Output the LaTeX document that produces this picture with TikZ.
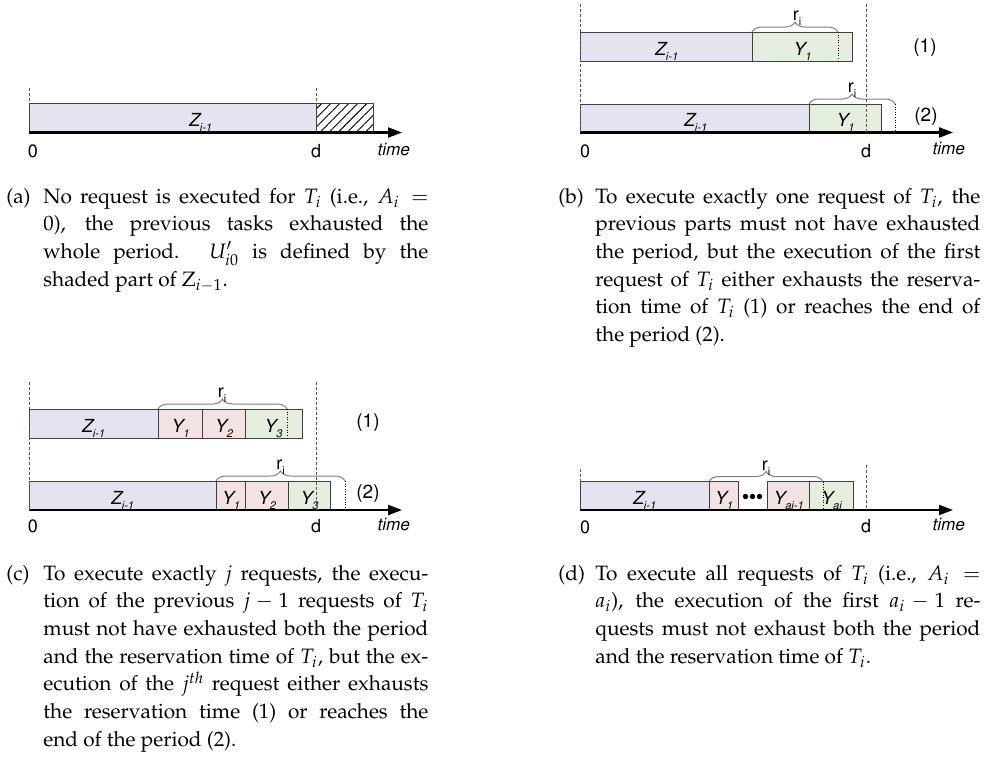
\documentclass[tikz,border=0pt]{standalone}
\usepackage[T1]{fontenc}
\usepackage{mathpazo}
\usetikzlibrary{arrows.meta,calc,decorations.pathreplacing,patterns.meta}

\definecolor{zfill}{RGB}{228,228,240}
\definecolor{ygreen}{RGB}{227,238,223}
\definecolor{ypink}{RGB}{242,227,226}

\newcommand{\hv}{\fontfamily{phv}\selectfont}
\newcommand{\lsub}[1]{\raisebox{-0.55ex}{\fontsize{5.5}{6}\selectfont #1}}
\newcommand{\Zprev}{Z\lsub{i-1}}
\newcommand{\Yreq}[1]{Y\lsub{#1}}
\newcommand{\rres}{r\lsub{i}}
\newcommand{\capbox}[2]{\vtop{\hsize=211pt\parindent=0pt\hangindent=18.5pt\hangafter=1
  \fontsize{10.4}{13.85}\selectfont\tolerance=10000\hbadness=10000
  \leavevmode\makebox[18.5pt][l]{#1}#2\par}}

\tikzset{
    part/.style={draw=black!75,line width=0.5pt},
    zpart/.style={part,fill=zfill},
    gpart/.style={part,fill=ygreen},
    ppart/.style={part,fill=ypink},
    hpart/.style={part,pattern={Lines[angle=45,distance=3.2pt,line width=0.45pt]}},
    taxis/.style={line width=1.1pt,-{Triangle[length=7pt,width=5pt]}},
    period/.style={black!65,line width=0.5pt,dash pattern=on 1.5pt off 1pt},
    rlimit/.style={black,line width=0.5pt,dash pattern=on 0.5pt off 0.8pt},
    rbrace/.style={black!50,line width=0.5pt,decorate,decoration={brace,amplitude=5pt}},
    seglabel/.style={font=\hv\slshape\fontsize{9}{10}\selectfont,inner sep=0pt,anchor=base},
    ticklabel/.style={font=\hv\fontsize{9}{10}\selectfont,inner sep=0pt,anchor=base},
    timelabel/.style={font=\hv\slshape\fontsize{8.5}{10}\selectfont,inner sep=0pt,anchor=base},
    rowlabel/.style={font=\hv\fontsize{9.5}{10}\selectfont,inner sep=0pt},
    rlabel/.style={font=\hv\fontsize{9}{10}\selectfont,inner sep=0pt,anchor=base},
    capt/.style={inner sep=0pt,anchor=base west}
}

\begin{document}
\begin{tikzpicture}[x=0.5pt,y=-0.5pt]
  \useasboundingbox (0,0) rectangle (984,760);

  % (a) previous tasks fill the period
  \draw[zpart] (29,103) rectangle (316,132.5);
  \draw[hpart] (316,103) rectangle (373,132.5);
  \node[seglabel] (a-z) at (200,126.5) {\Zprev};
  \coordinate (a-o) at (29,132.5);
  \coordinate (a-end) at (402,132.5);
  \draw[taxis] (a-o) -- (a-end);
  \draw[period] (29,88) -- (29,103);
  \draw[period] (316,88) -- (316,103);
  \node[ticklabel] (a-0) at (33,157) {0};
  \node[ticklabel] (a-d) at (316,157) {d};
  \node[timelabel] (a-t) at (393,155) {time};
  \node[capt] (a-cap) at (6,203) {\capbox{(a)}{No request is executed for $T_i$ (i.e., $A_i=$\linebreak
    $0$), the previous tasks exhausted the\linebreak
    whole period. $U'_{i0}$ is defined by the\linebreak
    shaded part of $\mathrm{Z}_{i-1}$.}};

  % (b) exactly one request
  \draw[zpart] (580,32) rectangle (752,61);
  \draw[gpart] (752,32) rectangle (852,61);
  \node[seglabel] (b-z1) at (666,55) {\Zprev};
  \node[seglabel] (b-y1) at (802,55) {\Yreq{1}};
  \draw[rlimit] (838,32) -- (838,61);
  \draw[rbrace] (752,32) -- (838,32);
  \node[rlabel] (b-r1) at (797,20) {\rres};
  \node[rowlabel] (b-n1) at (925,48) {(1)};
  \draw[zpart] (580,104) rectangle (809,132.5);
  \draw[gpart] (809,104) rectangle (881,132.5);
  \node[seglabel] (b-z2) at (695,126.5) {\Zprev};
  \node[seglabel] (b-y2) at (845,126.5) {\Yreq{1}};
  \draw[rbrace] (809,104) -- (895,104);
  \draw[rlimit] (895,104) -- (895,132.5);
  \node[rlabel] (b-r2) at (852,92) {\rres};
  \node[rowlabel] (b-n2) at (926,117) {(2)};
  \coordinate (b-o) at (580,132.5);
  \coordinate (b-end) at (953,132.5);
  \draw[taxis] (b-o) -- (b-end);
  \draw[period] (580,4) -- (580,132.5);
  \draw[period] (866,4) -- (866,132.5);
  \node[ticklabel] (b-0) at (585,157) {0};
  \node[ticklabel] (b-d) at (866,157) {d};
  \node[timelabel] (b-t) at (948,154) {time};
  \node[capt] (b-cap) at (558,203) {\capbox{(b)}{To execute exactly one request of $T_i$, the\linebreak
    previous parts must not have exhausted\linebreak
    the period, but the execution of the first\linebreak
    request of $T_i$ either exhausts the reserva-\linebreak
    tion time of $T_i$ (1) or reaches the end of\linebreak
    the period (2).}};

  % (c) exactly j requests
  \draw[zpart] (29,409) rectangle (158,438);
  \draw[ppart] (158,409) rectangle (202,438);
  \draw[ppart] (202,409) rectangle (245,438);
  \draw[gpart] (245,409) rectangle (302,438);
  \node[seglabel] (c-z1) at (93,432) {\Zprev};
  \node[seglabel] (c-y11) at (180,432) {\Yreq{1}};
  \node[seglabel] (c-y12) at (223.5,432) {\Yreq{2}};
  \node[seglabel] (c-y13) at (273,432) {\Yreq{3}};
  \draw[rlimit] (287,409) -- (287,438);
  \draw[rbrace] (158,409) -- (287,409);
  \node[rlabel] (c-r1) at (222,397) {\rres};
  \node[rowlabel] (c-n1) at (368,423) {(1)};
  \draw[zpart] (29,481) rectangle (216,510);
  \draw[ppart] (216,481) rectangle (245,510);
  \draw[ppart] (245,481) rectangle (288,510);
  \draw[gpart] (288,481) rectangle (330,510);
  \node[seglabel] (c-z2) at (122,504) {\Zprev};
  \node[seglabel] (c-y21) at (230.5,504) {\Yreq{1}};
  \node[seglabel] (c-y22) at (266.5,504) {\Yreq{2}};
  \node[seglabel] (c-y23) at (309,504) {\Yreq{3}};
  \draw[rbrace] (216,481) -- (345,481);
  \draw[rlimit] (345,481) -- (345,510);
  \node[rlabel] (c-r2) at (280.5,469) {\rres};
  \node[rowlabel] (c-n2) at (368,494) {(2)};
  \coordinate (c-o) at (29,510);
  \coordinate (c-end) at (402,510);
  \draw[taxis] (c-o) -- (c-end);
  \draw[period] (29,382) -- (29,510);
  \draw[period] (316,382) -- (316,510);
  \node[ticklabel] (c-0) at (33,532) {0};
  \node[ticklabel] (c-d) at (316,532) {d};
  \node[timelabel] (c-t) at (393,530) {time};
  \node[capt] (c-cap) at (6,580) {\capbox{(c)}{To execute exactly $j$ requests, the execu-\linebreak
    tion of the previous $j-1$ requests of $T_i$\linebreak
    must not have exhausted both the period\linebreak
    and the reservation time of $T_i$, but the ex-\linebreak
    ecution of the $j^{th}$ request either exhausts\linebreak
    the reservation time (1) or reaches the\linebreak
    end of the period (2).}};

  % (d) all requests
  \draw[zpart] (580,481.5) rectangle (709,510);
  \draw[ppart] (709,481.5) rectangle (738,510);
  \draw[ppart] (767,481.5) rectangle (809,510);
  \draw[gpart] (809,481.5) rectangle (853,510);
  \node[seglabel] (d-z) at (644,504) {\Zprev};
  \node[seglabel] (d-y1) at (723.5,504) {\Yreq{1}};
  \foreach \dx in {-7,0,7}
    \fill (752.5+\dx,496.5) circle (1.35pt);
  \node[seglabel] (d-ya) at (788,504) {\Yreq{ai-1}};
  \node[seglabel] (d-yb) at (831,504) {\Yreq{ai}};
  \draw[rlimit] (823,481.5) -- (823,510);
  \draw[rbrace] (709,481.5) -- (823,481.5);
  \node[rlabel] (d-r) at (766,470) {\rres};
  \coordinate (d-o) at (580,510);
  \coordinate (d-end) at (953,510);
  \draw[taxis] (d-o) -- (d-end);
  \draw[period] (580,469) -- (580,481.5);
  \draw[period] (866,465) -- (866,510);
  \node[ticklabel] (d-0) at (585,533) {0};
  \node[ticklabel] (d-d) at (866,532) {d};
  \node[timelabel] (d-t) at (948,530) {time};
  \node[capt] (d-cap) at (558,580) {\capbox{(d)}{To execute all requests of $T_i$ (i.e., $A_i=$\linebreak
    $a_i$), the execution of the first $a_i-1$ re-\linebreak
    quests must not exhaust both the period\linebreak
    and the reservation time of $T_i$.}};
\end{tikzpicture}
\end{document}
